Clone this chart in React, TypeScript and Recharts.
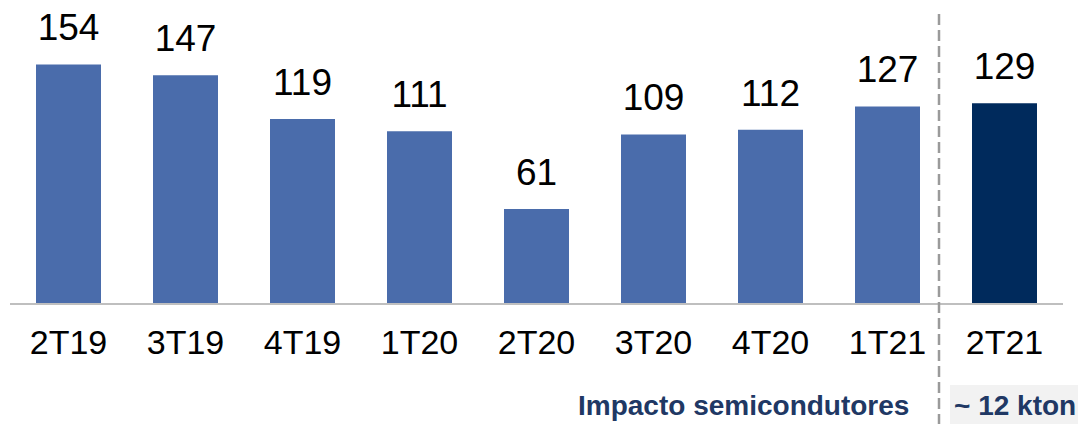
import { BarChart, Bar, XAxis, YAxis, Cell, LabelList } from 'recharts';

const QUARTERS = ['2T19', '3T19', '4T19', '1T20', '2T20', '3T20', '4T20', '1T21', '2T21'];
const VOLUMES = [154, 147, 119, 111, 61, 109, 112, 127, 129];
const BAR_COLORS = ['#4A6CAB', '#4A6CAB', '#4A6CAB', '#4A6CAB', '#4A6CAB', '#4A6CAB', '#4A6CAB', '#4A6CAB', '#002A5C'];

const data = QUARTERS.map((q, i) => ({ quarter: q, volume: VOLUMES[i] }));

const FONT = '"Liberation Sans", Arial, sans-serif';

export default function App() {
    return (
        <div style={{ position: 'absolute', left: 0, top: 0, width: 1078, height: 424, background: '#fff' }}>
            <BarChart width={1078} height={424} data={data} margin={{ top: 24, right: 15, bottom: 60, left: 10 }}>
                <YAxis hide domain={[0, 180]} />
                <XAxis
                    dataKey="quarter"
                    height={60}
                    tickLine={false}
                    tickMargin={20}
                    axisLine={{ stroke: '#BFBFBF', strokeWidth: 2 }}
                    tick={{ fill: '#000', fontSize: 34, fontFamily: FONT }}
                    interval={0}
                />
                <Bar dataKey="volume" barSize={65} isAnimationActive={false}>
                    {data.map((_, i) => (
                        <Cell key={i} fill={BAR_COLORS[i]} />
                    ))}
                    <LabelList dataKey="volume" position="top" offset={24} fill="#000" fontSize={37} fontFamily={FONT} />
                </Bar>
            </BarChart>
            {/* annotation overlay: divider + notes under the axis */}
            <svg width={1078} height={424} style={{ position: 'absolute', left: 0, top: 0, pointerEvents: 'none' }}>
                <line x1={939} y1={14} x2={939} y2={424} stroke="#9A9A9A" strokeWidth={2.5} strokeDasharray="11 5" />
                <rect x={950} y={385} width={128} height={39} fill="#F2F2F2" />
                <text x={578} y={415} fill="#203864" fontSize={28} fontWeight="bold" fontFamily={FONT}>
                    Impacto semicondutores
                </text>
                <text x={954} y={415} fill="#203864" fontSize={28} fontWeight="bold" fontFamily={FONT}>
                    ~ 12 kton
                </text>
            </svg>
        </div>
    );
}
